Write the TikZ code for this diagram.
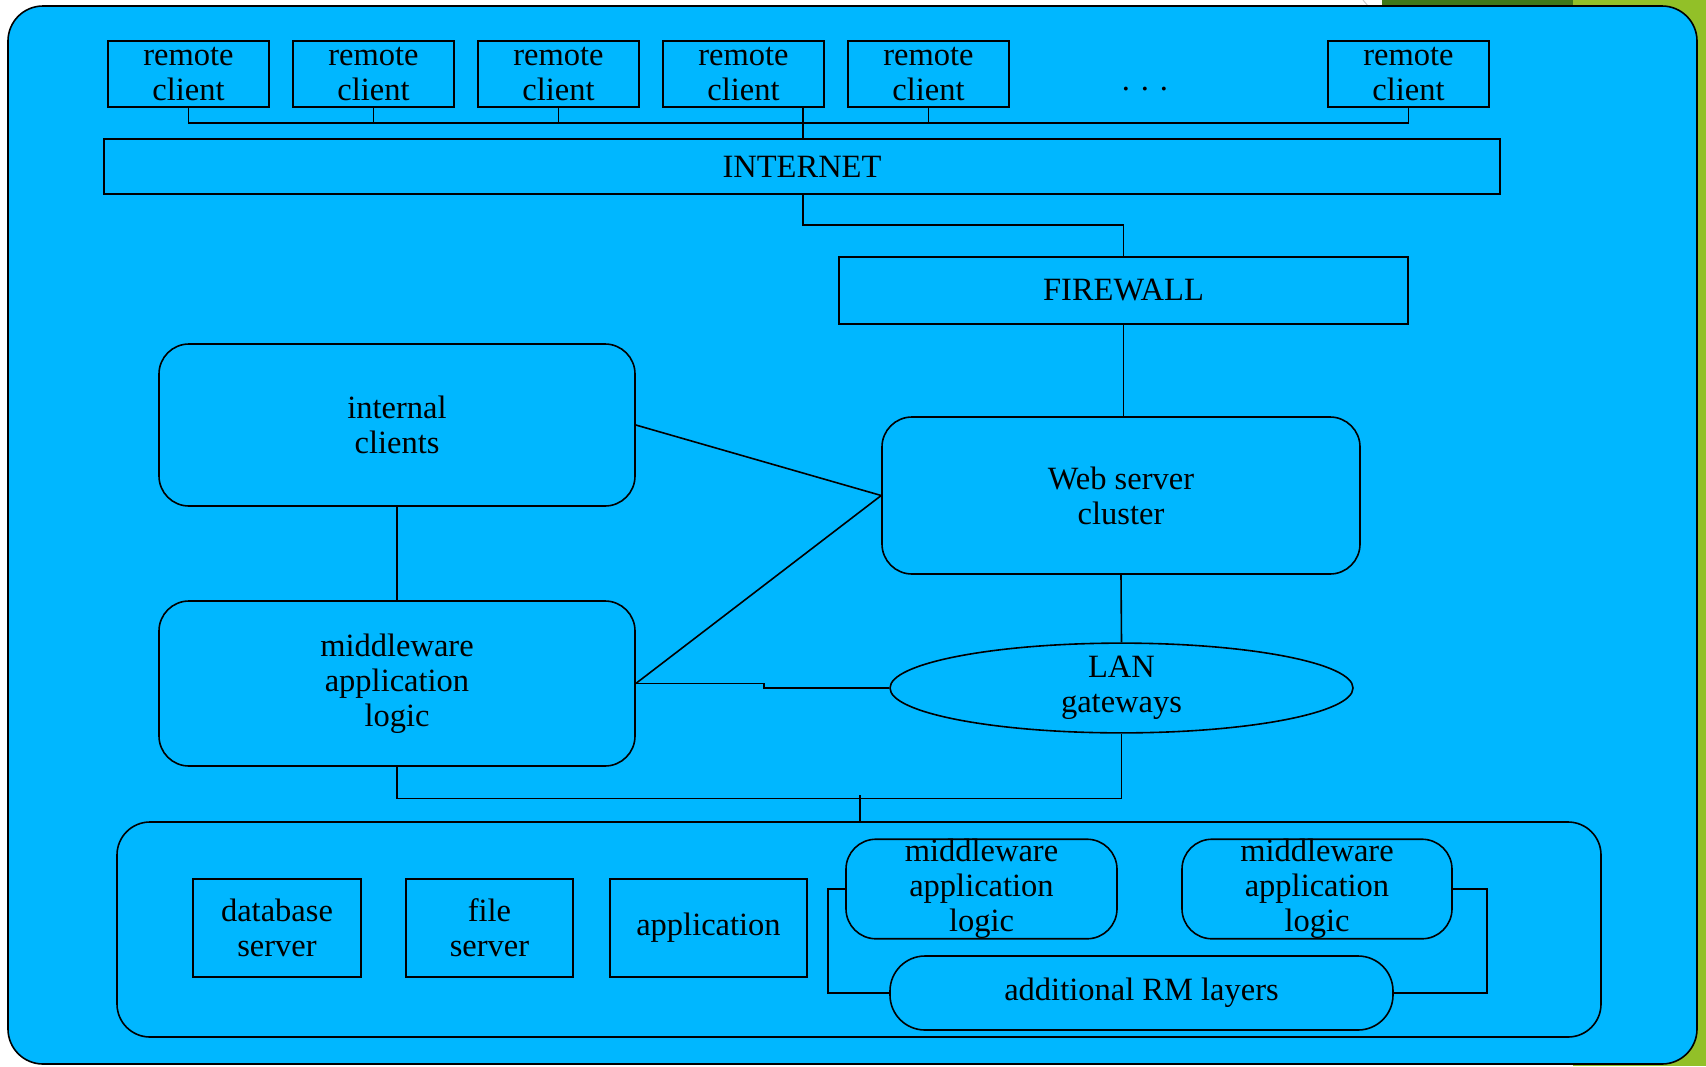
\documentclass[tikz,border=0pt]{standalone}
\usepackage{fontspec}
\setmainfont{Liberation Serif}
\usetikzlibrary{shapes.geometric,calc}
\definecolor{panel}{RGB}{0,183,255}
\definecolor{leaf}{RGB}{146,192,40}
\definecolor{forest}{RGB}{63,120,25}
\begin{document}
\begin{tikzpicture}[x=1pt,y=-1pt,
  every node/.style={font=\fontsize{32.5}{35}\selectfont, align=center, inner sep=0pt},
  wire/.style={line width=1.6pt},
  box/.style={draw, line width=1.6pt, fill=panel, rectangle},
  rbox/.style={box, rounded corners=30pt},
  client/.style={box, minimum width=161pt, minimum height=66pt}]
% page background and corner decoration
\useasboundingbox (0,0) rectangle (1706,1066);
\fill[white] (0,0) rectangle (1706,1066);
\fill[leaf] (1573,0) rectangle (1706,1066);
\fill[forest] (1382,0) rectangle (1573,12);
\draw[gray!40, line width=1pt] (1363,0) -- (1368,6);
% main panel
\draw[line width=1.6pt, fill=panel, rounded corners=35pt] (8,6) rectangle (1697,1064);

% remote clients
\node[client] (r1) at (188.5,74) {remote\\client};
\node[client] (r2) at (373.5,74) {remote\\client};
\node[client] (r3) at (558.5,74) {remote\\client};
\node[client] (r4) at (743.5,74) {remote\\client};
\node[client] (r5) at (928.5,74) {remote\\client};
\node (dots) at (1145,89) {.\,\,.\,\,.};
\node[client] (r6) at (1408.5,74) {remote\\client};

\node[box, minimum width=1396pt, minimum height=55pt] (internet) at (802,166.5) {INTERNET};
\node[box, minimum width=569pt, minimum height=67pt] (firewall) at (1123.5,290.5) {FIREWALL};
\node[rbox, minimum width=478pt, minimum height=157pt] (web) at (1121,495.5) {Web server\\cluster};
\node[rbox, minimum width=476pt, minimum height=162pt] (internal) at (397,425) {internal\\clients};
\node[rbox, minimum width=476pt, minimum height=165pt] (mw) at (397,683.5) {middleware\\application\\logic};
\node[draw, line width=1.6pt, fill=panel, ellipse, minimum width=463pt, minimum height=82pt] (lan) at (1121.5,688) {LAN\\gateways};

% resource manager tier
\node[draw, line width=1.6pt, fill=panel, rounded corners=33pt, minimum width=1484pt, minimum height=215pt] (tier) at (859,929.5) {};
\node[box, minimum width=168pt, minimum height=98pt] (db) at (277,928) {database\\server};
\node[box, minimum width=167pt, minimum height=98pt] (fs) at (489.5,928) {file\\server};
\node[box, minimum width=197pt, minimum height=98pt] (app) at (708.5,928) {application};
\node[rbox, minimum width=271pt, minimum height=98pt] (mw1) at (981.5,889) {middleware\\application\\logic};
\node[rbox, minimum width=270pt, minimum height=98pt] (mw2) at (1317,889) {middleware\\application\\logic};
\node[box, rounded corners=35pt, minimum width=503pt, minimum height=74pt] (rm) at (1141.5,993) {additional RM layers};

% client bus
\coordinate (bus) at (0,123);
\coordinate (trunk) at (803,0);
\draw[wire] (r1.south) |- (r6.south |- bus) -- (r6.south);
\foreach \n in {r2,r3,r5} \draw[wire] (\n.south) -- (\n.south |- bus);
\draw[wire] (r4.south -| trunk) -- (internet.north -| trunk);

% internet to firewall to web servers
\draw[wire] (internet.south -| trunk) |- ($(firewall.north)+(0,-31)$) -- (firewall.north);
\draw[wire] (firewall.south) -- (firewall.south |- web.north);

% internal network
\draw[wire] (internal.east) -- (web.west);
\draw[wire] (mw.east) -- (web.west);
\draw[wire] (internal.south) -- (mw.north);
\draw[wire] (web.south) -- (lan.north);
\draw[wire] (mw.east) -- ($(mw.east)+(128,0)$) |- (lan.west);
\draw[wire] (mw.south) |- ($(lan.south)+(0,65)$) -- (lan.south);
\coordinate (tap) at (860,795);
\draw[wire] (tap) -- (tap |- tier.north);

% links inside the resource manager tier
\draw[wire] (mw1.west) -- ++(-17,0) |- (rm.west);
\draw[wire] (mw2.east) -- ++(34,0) |- (rm.east);
\end{tikzpicture}
\end{document}
